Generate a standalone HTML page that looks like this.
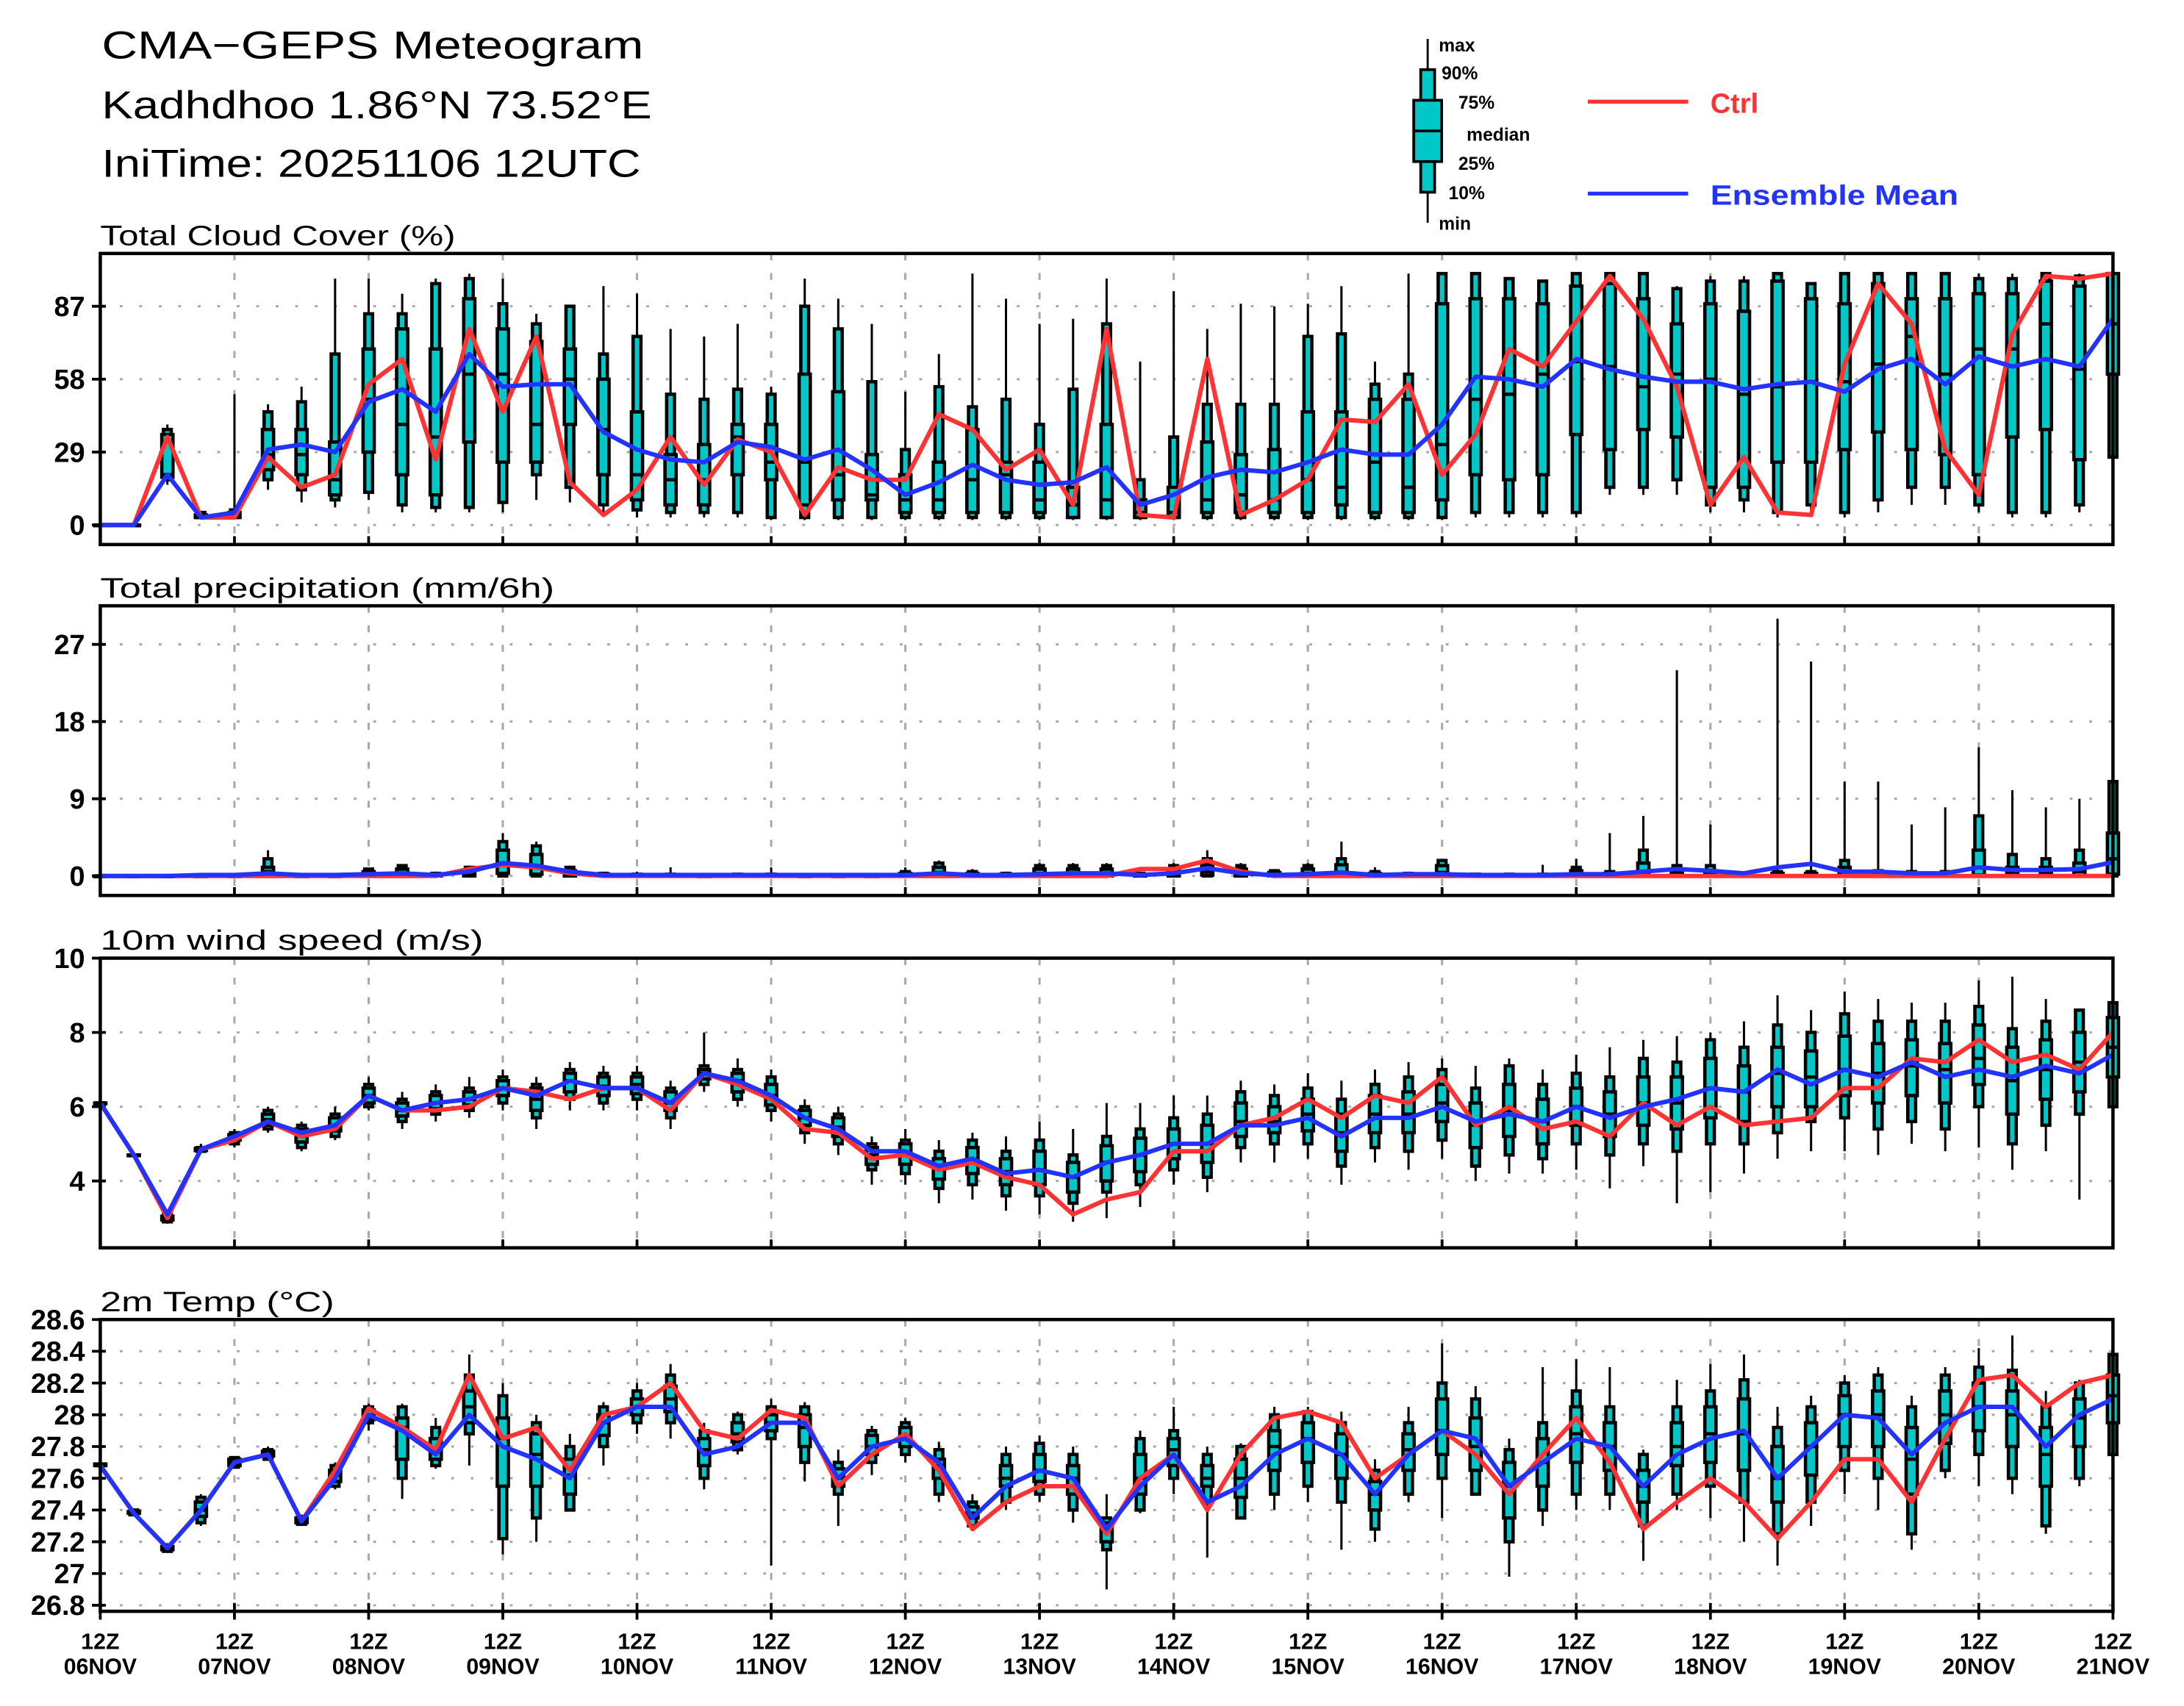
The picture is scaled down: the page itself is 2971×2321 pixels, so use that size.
<!DOCTYPE html>
<html><head><meta charset="utf-8"><style>
html,body{margin:0;padding:0;background:#fff;}
svg{display:block;font-family:"Liberation Sans",sans-serif;}
</style></head><body>
<svg id="chart" width="2971" height="2321" viewBox="0 0 1568 1225" preserveAspectRatio="none" xmlns="http://www.w3.org/2000/svg">
<rect x="0" y="0" width="1568" height="1225" fill="#fff"/>
<g font-size="28" fill="#000">
<text x="73" y="42" textLength="389" lengthAdjust="spacingAndGlyphs">CMA−GEPS Meteogram</text>
<text x="73" y="85" textLength="395" lengthAdjust="spacingAndGlyphs">Kadhdhoo 1.86°N 73.52°E</text>
<text x="73" y="127" textLength="387" lengthAdjust="spacingAndGlyphs">IniTime: 20251106 12UTC</text>
</g>
<g>
<line x1="1025" y1="28" x2="1025" y2="160" stroke="#000" stroke-width="1.5"/>
<rect x="1020" y="50" width="10" height="88" fill="#00c8c8" stroke="#000" stroke-width="2"/>
<rect x="1015" y="72" width="20" height="44" fill="#00c8c8" stroke="#000" stroke-width="2"/>
<line x1="1015" y1="94" x2="1035" y2="94" stroke="#000" stroke-width="2"/>
<g font-size="13" font-weight="bold">
<text x="1033" y="37">max</text><text x="1035" y="57">90%</text><text x="1047" y="78">75%</text>
<text x="1053" y="101">median</text><text x="1047" y="122">25%</text><text x="1040" y="143">10%</text><text x="1033" y="165">min</text>
</g></g>
<g>
<line x1="1140" y1="73" x2="1212" y2="73" stroke="#ff3333" stroke-width="2.8"/>
<text x="1228" y="81" font-size="20" font-weight="bold" fill="#ff3333">Ctrl</text>
<line x1="1140" y1="139" x2="1212" y2="139" stroke="#2233ff" stroke-width="2.8"/>
<text x="1228" y="147" font-size="20" font-weight="bold" fill="#2233ff" textLength="178" lengthAdjust="spacingAndGlyphs">Ensemble Mean</text>
</g>
<g id="plots"></g>
</svg>
<script>
// ---- Cloud cover (%) ----
const cc_ctrl=[0,0,35,3,3,27,15,20,56,66,26,78,45,75,17,4,14,35,16,34,29,4,23,18,18,44,38,22,30,8,78,4,3,66,4,10,18,42,41,56,20,36,70,63,81,99,82,55,8,27,5,4,64,96,80,30,12,76,99,98,100];
const cc_mean=[0,0,20,3,5,30,32,29,49,54,45,68,55,56,56,37,30,26,25,33,31,26,30,22,12,17,24,18,16,17,23,8,12,19,22,21,25,30,28,28,40,59,58,55,66,62,59,57,57,54,56,57,53,62,66,56,67,63,66,63,82];
const cc_min=[0,0,16,3,3,14,9,7,10,5,5,5,5,10,9,5,3,3,3,3,2,2,2,2,2,2,2,2,2,2,2,2,2,2,2,2,2,2,2,2,2,3,3,3,3,12,12,12,5,5,3,5,3,5,8,8,5,3,3,5,25];
const cc_p10=[0,0,18,3,3,18,14,10,13,8,7,7,9,20,15,8,6,5,5,5,3,3,3,3,3,3,3,3,3,3,3,3,3,3,3,3,3,3,3,3,3,5,5,5,5,15,15,18,8,10,5,8,5,10,15,15,8,5,5,8,27];
const cc_p25=[0,0,19,3,3,22,20,12,29,20,12,33,25,25,40,20,10,8,8,20,18,8,10,10,5,5,5,5,5,3,3,3,3,5,5,5,5,8,5,5,10,20,18,20,36,30,38,35,15,15,25,25,30,37,30,28,20,35,38,26,60];
const cc_med=[0,0,20,3,4,28,28,18,50,40,35,60,60,40,58,38,20,18,18,35,25,25,20,12,10,10,18,20,10,8,10,5,5,10,12,10,18,15,25,15,32,50,52,60,65,63,55,60,58,52,55,57,57,64,75,60,70,70,80,62,80];
const cc_p75=[0,0,36,4,5,38,38,33,70,78,70,90,78,73,70,58,45,28,32,40,40,60,53,28,20,25,38,25,25,15,40,10,15,33,28,30,45,45,50,50,88,90,90,88,95,96,90,80,88,85,97,90,88,96,90,90,92,92,97,95,100];
const cc_p90=[0,0,38,5,6,45,49,68,84,84,96,98,88,80,87,68,75,52,50,54,52,87,78,57,30,55,47,50,40,54,80,18,35,48,48,48,75,76,56,60,100,100,98,97,100,100,100,94,97,97,100,96,100,100,100,100,98,98,100,99,100];
const cc_max=[0,0,40,5,52,48,55,98,98,92,98,100,98,84,87,95,92,78,75,80,55,98,90,80,53,68,100,90,80,82,98,65,93,78,88,87,88,95,65,100,100,100,98,97,100,100,100,95,99,99,100,96,100,100,100,100,100,100,100,100,100];
const cc_ticks=[0,29,58,87];
// ---- Precipitation (mm/6h) ----
const pr_ctrl=[0,0,0,0,0,0,0,0,0,0,0,0.8,1.3,1.0,0.3,0,0,0,0,0,0,0,0,0,0,0,0,0,0,0,0,0.8,0.8,1.8,0.5,0,0,0,0,0,0,0,0,0,0,0,0,0,0,0,0,0,0,0,0,0,0,0,0,0,0];
const pr_mean=[0,0,0,0.1,0.1,0.3,0.1,0.1,0.2,0.3,0.1,0.5,1.5,1.2,0.5,0.1,0.1,0.1,0.1,0.1,0.1,0.1,0.1,0.1,0.1,0.3,0.1,0.1,0.2,0.3,0.3,0.1,0.3,0.9,0.3,0.1,0.2,0.4,0.1,0.2,0.2,0.1,0.1,0.1,0.2,0.2,0.5,0.8,0.6,0.3,1.0,1.4,0.5,0.5,0.3,0.3,1.0,0.7,0.7,0.8,1.6];
const pr_min=[0,0,0,0,0,0,0,0,0,0,0,0,0,0,0,0,0,0,0,0,0,0,0,0,0,0,0,0,0,0,0,0,0,0,0,0,0,0,0,0,0,0,0,0,0,0,0,0,0,0,0,0,0,0,0,0,0,0,0,0,0];
const pr_p10=[0,0,0,0,0,0,0,0,0,0,0,0,0,0,0,0,0,0,0,0,0,0,0,0,0,0,0,0,0,0,0,0,0,0,0,0,0,0,0,0,0,0,0,0,0,0,0,0,0,0,0,0,0,0,0,0,0,0,0,0,0];
const pr_p25=[0,0,0,0,0,0,0,0,0,0,0,0,0.3,0.2,0,0,0,0,0,0,0,0,0,0,0,0,0,0,0,0,0,0,0,0.1,0,0,0,0,0,0,0,0,0,0,0,0,0,0,0,0,0,0,0,0,0,0,0.1,0,0,0,0.2];
const pr_med=[0,0,0,0,0,0.5,0,0,0.1,0.2,0,0.3,1.5,1.2,0.3,0,0,0,0,0,0,0,0,0,0.1,0.4,0.1,0,0.3,0.3,0.3,0,0.3,0.5,0.3,0.1,0.3,0.4,0.1,0,0.4,0,0,0,0.2,0.1,0.4,0.2,0.2,0,0.1,0.1,0.4,0.1,0.1,0.1,1.0,0.4,0.4,0.5,2.0];
const pr_p75=[0,0,0,0,0,1,0,0,0.5,0.8,0.2,0.7,3,2.5,0.6,0.2,0.1,0.1,0,0.1,0.1,0,0,0,0.3,1,0.3,0.2,0.8,0.8,0.8,0.2,0.8,1.3,0.8,0.4,0.8,1.3,0.3,0.2,1.2,0.1,0.1,0.1,0.6,0.3,1.5,0.6,0.6,0.2,0.3,0.3,1,0.4,0.3,0.3,3,1,1,1.5,5];
const pr_p90=[0,0,0,0,0.1,2,0.1,0.1,0.8,1.2,0.3,1.0,4,3.5,1.0,0.3,0.2,0.2,0.1,0.2,0.2,0.1,0.1,0.1,0.5,1.5,0.5,0.3,1.2,1.2,1.2,0.3,1.2,2,1.2,0.6,1.2,2,0.5,0.3,1.8,0.2,0.2,0.2,1.0,0.5,3,1.2,1.2,0.3,0.5,0.5,1.8,0.6,0.5,0.5,7,2.5,2,3,11];
const pr_max=[0,0,0,0,0.3,3,0.3,0.3,0.8,1.3,0.5,1.2,5,4,1.2,0.5,0.5,1,0.3,0.3,1,0.3,0.3,0.3,1,1.8,0.8,0.5,1.5,1.5,1.5,0.5,1.5,3,1.5,0.8,1.5,4,1,0.5,2,0.3,0.3,1.3,2,5,7,24,6,0.5,30,25,11,11,6,8,15,10,8,9,12];
const pr_ticks=[0,9,18,27];
// ---- 10m wind (m/s) ----
const w_ctrl=[6.1,4.7,3.0,4.85,5.1,5.6,5.2,5.4,6.3,5.9,5.9,6.0,6.5,6.4,6.2,6.5,6.5,5.9,6.9,6.6,6.2,5.4,5.3,4.6,4.7,4.3,4.5,4.1,3.9,3.1,3.5,3.7,4.8,4.8,5.5,5.7,6.2,5.7,6.3,6.1,6.8,5.5,6.0,5.4,5.6,5.2,6.1,5.5,6.0,5.5,5.6,5.7,6.5,6.5,7.3,7.2,7.8,7.2,7.4,7.0,8.0];
const w_mean=[6.1,4.7,3.1,4.85,5.2,5.6,5.3,5.5,6.3,5.9,6.1,6.2,6.5,6.3,6.7,6.5,6.5,6.1,6.9,6.7,6.3,5.7,5.4,4.8,4.8,4.4,4.6,4.2,4.3,4.1,4.5,4.7,5.0,5.0,5.5,5.5,5.7,5.2,5.7,5.7,6.0,5.6,5.8,5.6,6.0,5.7,6.0,6.2,6.5,6.4,7.0,6.6,7.0,6.8,7.2,6.8,7.0,6.8,7.1,6.9,7.4];
const w_min=[6.1,4.7,2.85,4.75,4.9,5.3,4.8,5.1,5.9,5.4,5.6,5.7,5.9,5.4,5.9,5.9,5.9,5.4,6.4,6.0,5.6,5.0,4.7,3.9,3.9,3.4,3.5,3.2,3.1,2.9,3.0,3.3,3.9,3.7,4.5,4.5,4.6,3.9,4.5,4.3,4.6,4.0,4.2,4.2,4.3,3.8,4.4,3.4,3.7,4.2,4.6,4.8,4.8,4.7,5.0,4.8,4.9,4.3,4.8,3.5,5.8];
const w_p10=[6.1,4.7,2.9,4.8,5.0,5.4,4.9,5.2,6.0,5.6,5.8,5.9,6.1,5.7,6.2,6.1,6.2,5.7,6.6,6.2,5.9,5.3,5.0,4.3,4.2,3.8,3.9,3.6,3.6,3.4,3.7,3.9,4.3,4.1,4.9,5.0,5.0,4.4,4.9,4.8,5.1,4.4,4.7,4.6,5.0,4.7,5.0,4.8,5.0,5.0,5.3,5.6,5.7,5.4,5.6,5.4,6.0,5.0,5.5,5.8,6.0];
const w_p25=[6.1,4.7,2.95,4.82,5.1,5.5,5.05,5.35,6.1,5.75,5.95,6.05,6.3,5.9,6.4,6.3,6.35,5.9,6.75,6.4,6.05,5.5,5.2,4.45,4.45,4.05,4.2,3.9,3.9,3.7,4.0,4.25,4.6,4.5,5.2,5.3,5.35,4.8,5.3,5.3,5.6,4.9,5.2,5.0,5.5,5.2,5.5,5.4,5.7,5.6,6.0,6.0,6.3,6.1,6.3,6.1,6.6,5.8,6.2,6.4,6.8];
const w_med=[6.1,4.7,3.0,4.85,5.2,5.65,5.25,5.5,6.3,5.9,6.1,6.2,6.5,6.2,6.7,6.55,6.6,6.1,6.9,6.7,6.3,5.7,5.45,4.7,4.75,4.35,4.55,4.25,4.3,4.1,4.5,4.7,5.0,5.0,5.6,5.6,5.8,5.3,5.8,5.8,6.1,5.5,5.9,5.6,6.0,5.8,6.1,6.1,6.5,6.4,6.9,6.8,7.0,6.9,7.1,7.0,7.3,6.7,7.0,7.2,7.6];
const w_p75=[6.1,4.7,3.05,4.88,5.25,5.8,5.4,5.7,6.5,6.1,6.3,6.4,6.7,6.5,6.9,6.8,6.8,6.4,7.0,6.9,6.6,5.9,5.7,4.9,5.0,4.6,4.9,4.6,4.8,4.5,4.95,5.15,5.4,5.5,6.1,6.0,6.2,5.8,6.3,6.4,6.6,6.1,6.6,6.2,6.5,6.4,6.8,6.8,7.3,7.1,7.6,7.5,7.9,7.7,7.8,7.7,8.2,7.6,7.8,8.0,8.4];
const w_p90=[6.1,4.7,3.1,4.9,5.3,5.9,5.5,5.8,6.6,6.2,6.4,6.5,6.8,6.6,7.0,6.9,6.9,6.5,7.1,7.0,6.8,6.0,5.8,5.0,5.1,4.8,5.1,4.8,5.1,4.7,5.2,5.4,5.7,5.8,6.4,6.3,6.5,6.2,6.6,6.8,7.0,6.5,7.1,6.6,6.9,6.8,7.3,7.2,7.8,7.6,8.2,8.0,8.5,8.3,8.3,8.3,8.7,8.1,8.3,8.6,8.8];
const w_max=[6.1,4.7,3.2,5.0,5.4,6.0,5.6,6.0,6.8,6.4,6.6,6.8,7.0,6.8,7.2,7.1,7.1,6.7,8.0,7.3,7.0,6.2,6.0,5.2,5.4,5.1,5.3,5.2,5.6,5.4,6.1,6.1,6.3,6.3,6.7,6.6,6.9,6.7,7.0,7.2,7.3,7.1,7.3,7.0,7.4,7.6,7.8,7.9,8.0,8.3,9.0,8.6,9.1,8.9,8.8,8.8,9.4,9.5,8.9,8.6,8.9];
const w_ticks=[4,6,8,10];
// ---- 2m temperature (C) ----
const t_ctrl=[27.68,27.38,27.16,27.4,27.7,27.75,27.33,27.65,28.04,27.92,27.78,28.25,27.85,27.92,27.65,28.0,28.05,28.2,27.9,27.85,28.03,27.98,27.55,27.75,27.88,27.65,27.28,27.45,27.55,27.55,27.25,27.6,27.75,27.4,27.75,27.98,28.02,27.95,27.6,27.75,27.9,27.75,27.5,27.75,27.98,27.7,27.28,27.45,27.6,27.45,27.22,27.45,27.72,27.72,27.45,27.85,28.22,28.25,28.05,28.2,28.25];
const t_mean=[27.68,27.38,27.16,27.4,27.7,27.75,27.33,27.6,28.0,27.9,27.75,28.0,27.8,27.72,27.6,27.95,28.05,28.05,27.75,27.8,27.95,27.95,27.6,27.8,27.85,27.7,27.35,27.55,27.65,27.6,27.28,27.55,27.75,27.45,27.55,27.75,27.85,27.75,27.5,27.75,27.9,27.85,27.55,27.7,27.85,27.8,27.55,27.75,27.85,27.9,27.6,27.8,28.0,27.98,27.75,27.95,28.05,28.05,27.8,28.0,28.1];
const t_min=[27.67,27.36,27.13,27.3,27.66,27.71,27.3,27.53,27.9,27.47,27.66,27.68,27.12,27.2,27.4,27.68,27.88,27.85,27.53,27.75,27.05,27.58,27.3,27.62,27.7,27.45,27.28,27.4,27.45,27.32,26.9,27.38,27.5,27.1,27.35,27.4,27.45,27.15,27.2,27.45,27.35,27.5,26.98,27.3,27.4,27.4,27.08,27.4,27.35,27.2,27.05,27.3,27.5,27.4,27.15,27.6,27.55,27.5,27.25,27.55,27.7];
const t_p10=[27.68,27.37,27.14,27.32,27.67,27.72,27.31,27.55,27.95,27.6,27.68,27.88,27.22,27.35,27.4,27.8,27.95,27.95,27.6,27.78,27.85,27.7,27.5,27.7,27.75,27.5,27.3,27.45,27.5,27.4,27.15,27.4,27.6,27.45,27.35,27.5,27.55,27.45,27.28,27.5,27.6,27.5,27.2,27.4,27.5,27.5,27.3,27.5,27.55,27.45,27.25,27.45,27.65,27.6,27.25,27.65,27.75,27.6,27.3,27.6,27.75];
const t_p25=[27.68,27.38,27.15,27.36,27.68,27.74,27.32,27.58,27.97,27.72,27.72,27.95,27.55,27.55,27.5,27.87,28.0,28.02,27.68,27.83,27.9,27.8,27.55,27.75,27.8,27.6,27.35,27.55,27.58,27.5,27.2,27.5,27.68,27.55,27.48,27.65,27.7,27.6,27.4,27.65,27.75,27.65,27.35,27.55,27.7,27.65,27.45,27.68,27.7,27.65,27.45,27.62,27.8,27.8,27.5,27.82,27.9,27.8,27.55,27.8,27.95];
const t_med=[27.68,27.38,27.16,27.4,27.7,27.75,27.33,27.62,28.0,27.92,27.78,28.05,27.85,27.75,27.62,27.95,28.05,28.1,27.78,27.88,27.95,27.92,27.6,27.8,27.85,27.68,27.38,27.6,27.65,27.6,27.27,27.6,27.78,27.6,27.6,27.8,27.85,27.75,27.5,27.78,27.9,27.8,27.55,27.7,27.88,27.8,27.55,27.8,27.88,27.88,27.6,27.8,28.0,28.0,27.72,28.0,28.05,28.0,27.75,27.98,28.12];
const t_p75=[27.69,27.39,27.17,27.45,27.72,27.77,27.35,27.65,28.03,27.98,27.85,28.15,27.98,27.88,27.72,28.0,28.1,28.18,27.85,27.95,28.0,28.0,27.66,27.87,27.92,27.72,27.42,27.68,27.75,27.68,27.32,27.75,27.85,27.68,27.72,27.9,27.95,27.88,27.58,27.88,28.1,27.98,27.7,27.85,28.05,27.95,27.65,27.95,28.05,28.1,27.8,27.95,28.12,28.15,27.92,28.15,28.2,28.15,27.92,28.1,28.25];
const t_p90=[27.69,27.4,27.18,27.48,27.73,27.78,27.36,27.68,28.05,28.05,27.92,28.25,28.12,27.95,27.8,28.05,28.15,28.25,27.9,28.0,28.05,28.05,27.7,27.9,27.95,27.78,27.45,27.75,27.82,27.75,27.35,27.85,27.9,27.75,27.8,28.0,28.02,27.95,27.65,27.95,28.2,28.1,27.78,27.95,28.15,28.05,27.75,28.05,28.15,28.22,27.92,28.05,28.2,28.25,28.05,28.25,28.3,28.28,28.05,28.2,28.38];
const t_max=[27.7,27.41,27.19,27.5,27.74,27.8,27.37,27.7,28.07,28.07,27.98,28.38,28.2,28.0,27.88,28.08,28.2,28.32,27.95,28.02,28.1,28.08,27.78,27.93,27.98,27.83,27.5,27.8,27.87,27.8,27.5,27.9,28.05,27.8,27.82,28.05,28.05,28.02,27.72,28.05,28.45,28.18,27.85,28.3,28.35,28.3,27.78,28.22,28.32,28.38,28.05,28.12,28.25,28.3,28.12,28.3,28.42,28.5,28.15,28.22,28.4];
const t_ticks=[26.8,27,27.2,27.4,27.6,27.8,28,28.2,28.4,28.6];
const day_labels=["06NOV","07NOV","08NOV","09NOV","10NOV","11NOV","12NOV","13NOV","14NOV","15NOV","16NOV","17NOV","18NOV","19NOV","20NOV","21NOV"];

const NS="http://www.w3.org/2000/svg";
const root=document.getElementById('plots');
const X0=72,X1=1517,NSTEP=60;
function xs(i){return X0+(X1-X0)*i/NSTEP;}
function mk(tag,attrs,parent){const e=document.createElementNS(NS,tag);for(const k in attrs)e.setAttribute(k,attrs[k]);(parent||root).appendChild(e);return e;}

const panels=[
 {name:'cloud',title:'Total Cloud Cover (%)',tw:255,top:182,bot:391,vtop:108,vbot:-7.76,ticks:cc_ticks,ctrl:cc_ctrl,mean:cc_mean,mn:cc_min,p10:cc_p10,p25:cc_p25,md:cc_med,p75:cc_p75,p90:cc_p90,mx:cc_max},
 {name:'precip',title:'Total precipitation (mm/6h)',tw:326,top:435,bot:643,vtop:31.5,vbot:-2.28,ticks:pr_ticks,ctrl:pr_ctrl,mean:pr_mean,mn:pr_min,p10:pr_p10,p25:pr_p25,md:pr_med,p75:pr_p75,p90:pr_p90,mx:pr_max},
 {name:'wind',title:'10m wind speed (m/s)',tw:275,top:688,bot:896,vtop:10,vbot:2.2,ticks:w_ticks,ctrl:w_ctrl,mean:w_mean,mn:w_min,p10:w_p10,p25:w_p25,md:w_med,p75:w_p75,p90:w_p90,mx:w_max},
 {name:'temp',title:'2m Temp (°C)',tw:168,top:947.5,bot:1157,vtop:28.6,vbot:26.762,ticks:t_ticks,ctrl:t_ctrl,mean:t_mean,mn:t_min,p10:t_p10,p25:t_p25,md:t_med,p75:t_p75,p90:t_p90,mx:t_max}
];

panels.forEach(p=>{
 const g=mk('g',{});
 
 
 const ys=v=>p.bot-(v-p.vbot)/(p.vtop-p.vbot)*(p.bot-p.top);
 const t=mk('text',{x:72,y:p.top-6,'font-size':20,textLength:p.tw,lengthAdjust:'spacingAndGlyphs'},g);
 t.textContent=p.title;
 
 
 for(let d=0;d<=15;d++){
  const x=xs(d*4);
  if(d>0&&d<15){const l=mk('line',{x1:x,y1:p.top,x2:x,y2:p.bot,stroke:'#a8a8a8','stroke-width':1.6,'stroke-dasharray':'5,9'},g);
  
  }
 }
 p.ticks.forEach(v=>{
  const y=ys(v);
  const l=mk('line',{x1:X0,y1:y,x2:X1,y2:y,stroke:'#a8a8a8','stroke-width':1.6,'stroke-dasharray':'2,12'},g);
  
  
  mk('line',{x1:X0-6,y1:y,x2:X0+4,y2:y,stroke:'#000','stroke-width':2},g);
  const lb=mk('text',{x:61,y:y+7,'font-size':20,'font-weight':'bold','text-anchor':'end'},g);
  lb.textContent=(p.name==='temp')?String(Math.round(v*10)/10):String(v);
  
  
 });
 for(let i=0;i<=NSTEP;i++){
  const x=xs(i);
  const bg=mk('g',{},g);
  
  
  mk('line',{x1:x,y1:ys(p.mn[i]),x2:x,y2:ys(p.mx[i]),stroke:'#000','stroke-width':1.6},bg);
  const a=ys(p.p90[i]),b=ys(p.p10[i]);
  mk('rect',{x:x-2.8,y:a,width:5.6,height:Math.max(b-a,0.5),fill:'#00c8c8',stroke:'#000','stroke-width':2.4},bg);
  const c=ys(p.p75[i]),d=ys(p.p25[i]);
  mk('rect',{x:x-4,y:c,width:8,height:Math.max(d-c,0.5),fill:'#00c8c8',stroke:'#000','stroke-width':2.4},bg);
  const m=ys(p.md[i]);
  mk('line',{x1:x-4,y1:m,x2:x+4,y2:m,stroke:'#000','stroke-width':2.4},bg);
 }
 const pts=arr=>arr.map((v,i)=>xs(i).toFixed(1)+','+ys(v).toFixed(1)).join(' ');
 const rl=mk('polyline',{points:pts(p.ctrl),fill:'none',stroke:'#ff3333','stroke-width':3.2,'stroke-linejoin':'round'},g);
 
 
 const bl=mk('polyline',{points:pts(p.mean),fill:'none',stroke:'#2233ff','stroke-width':3.2,'stroke-linejoin':'round'},g);
 
 
 const fr=mk('rect',{x:X0,y:p.top,width:X1-X0,height:p.bot-p.top,fill:'none',stroke:'#000','stroke-width':2.4},g);
 
 
 for(let d=0;d<=15;d++){const x=xs(d*4);
  mk('line',{x1:x,y1:p.bot-6,x2:x,y2:p.bot+(p.name==='temp'?6:0),stroke:'#000','stroke-width':2},g);}
});
for(let d=0;d<=15;d++){
 const x=xs(d*4);
 const t1=mk('text',{x:x,y:1184,'font-size':16,'font-weight':'bold','text-anchor':'middle'});
 t1.textContent='12Z';
 
 
 const t2=mk('text',{x:x,y:1202,'font-size':16,'font-weight':'bold','text-anchor':'middle'});
 t2.textContent=day_labels[d];
 
 
}
</script>
</body></html>
